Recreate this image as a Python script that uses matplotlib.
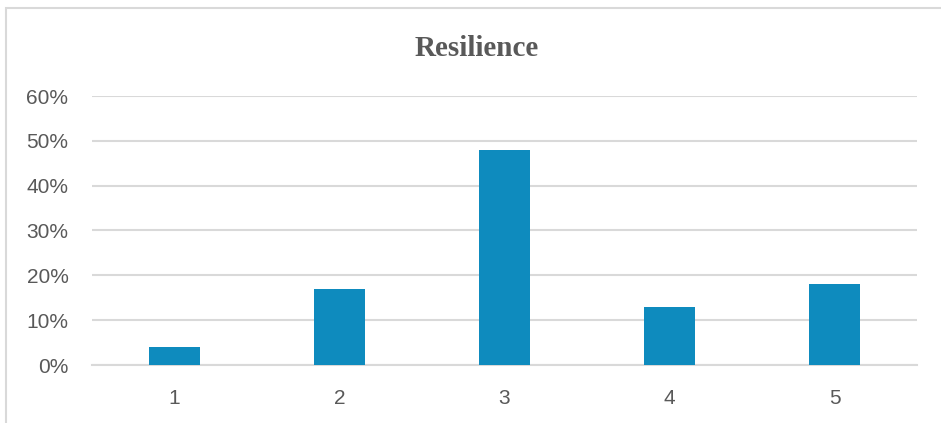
import matplotlib.pyplot as plt
from matplotlib.patches import Rectangle
from matplotlib.ticker import PercentFormatter

categories = ["1", "2", "3", "4", "5"]
shares = [4, 17, 48, 13, 18]  # percent of responses
y_ticks = [0, 10, 20, 30, 40, 50, 60]

bar_color = "#0E8BBE"
text_color = "#595959"
grid_color = "#D9D9D9"

fig = plt.figure(figsize=(9.41, 4.23), dpi=100)
ax = fig.add_axes([92 / 941, 58 / 423, 825 / 941, 269 / 423])

x = range(len(categories))
ax.bar(x, shares, width=0.31, color=bar_color, zorder=3)

ax.set_xlim(-0.5, len(categories) - 0.5)
ax.set_ylim(0, 60)
ax.set_yticks(y_ticks)
ax.yaxis.set_major_formatter(PercentFormatter(decimals=0))
ax.set_xticks(list(x))
ax.set_xticklabels(categories)

ax.grid(axis="y", color=grid_color, linewidth=1.5, zorder=0)
for side in ["top", "right", "left"]:
    ax.spines[side].set_visible(False)
ax.spines["bottom"].set_color(grid_color)
ax.spines["bottom"].set_linewidth(1.5)
ax.tick_params(length=0, labelsize=15, labelcolor=text_color)
ax.tick_params(axis="x", pad=17)
ax.tick_params(axis="y", pad=17)
for lbl in ax.get_xticklabels() + ax.get_yticklabels():
    lbl.set_fontfamily("Liberation Sans")

fig.text(477 / 941, 1 - 48 / 423, "Resilience", ha="center", va="center",
         fontsize=21, fontweight="bold", color=text_color, family="Liberation Serif")

# outer chart frame, only left and top edges fall inside the canvas
fig.patches.append(Rectangle((6 / 941, -0.1), 1.2, 1 - 8 / 423 + 0.1,
                             transform=fig.transFigure, fill=False,
                             edgecolor=grid_color, linewidth=1.5))

fig.savefig("out.png", dpi=100)
